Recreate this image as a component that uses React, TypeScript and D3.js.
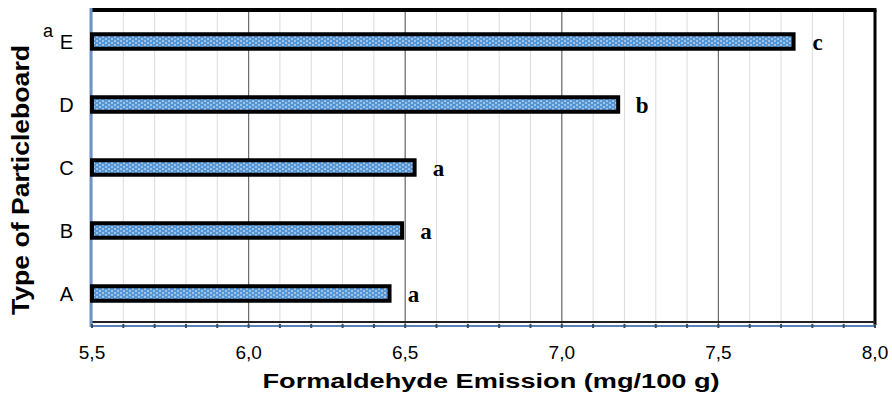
import * as d3 from "d3";

// particleboard types, bottom to top in the picture
const boards = ["A", "B", "C", "D", "E"];
const emission = [6.45, 6.49, 6.53, 7.18, 7.74];
const groups = ["a", "a", "a", "b", "c"];
const xTicks = [5.5, 6.0, 6.5, 7.0, 7.5, 8.0];

const W = 892;
const H = 400;
const plot = { left: 92, right: 875, top: 10, bottom: 325 };

export default function App() {
  const x = d3.scaleLinear().domain([5.5, 8.0]).range([plot.left, plot.right]);
  const y = d3
    .scaleBand<string>()
    .domain([...boards].reverse())
    .range([plot.top, plot.bottom])
    .paddingInner(0.77)
    .paddingOuter(0.385);

  const minor = d3.range(55, 81).map((v) => v / 10);
  const fmt = (v: number) => v.toFixed(1).replace(".", ",");
  const sans = "'Liberation Sans', Arial, sans-serif";
  const serif = "'Liberation Serif', 'Times New Roman', serif";

  return (
    <svg width={W} height={H} style={{ display: "block", position: "absolute", left: 0, top: 0 }}>
      <defs>
        <pattern id="dots" width={6} height={4} patternUnits="userSpaceOnUse">
          <rect width={6} height={4} fill="#5597d6" />
          <rect x={0} y={0.5} width={2} height={1} fill="#ffffff" opacity={0.85} />
          <rect x={3} y={2.5} width={2} height={1} fill="#ffffff" opacity={0.85} />
        </pattern>
      </defs>
      <rect width={W} height={H} fill="#fff" />

      {/* grid */}
      {minor.map((v) => (
        <line key={"m" + v} x1={x(v)} x2={x(v)} y1={plot.top} y2={plot.bottom} stroke="#dcdcdc" strokeWidth={1} />
      ))}
      {xTicks.slice(1, -1).map((v) => (
        <line key={"M" + v} x1={x(v)} x2={x(v)} y1={plot.top} y2={plot.bottom} stroke="#6e6e6e" strokeWidth={1.2} />
      ))}

      {/* frame */}
      <line x1={plot.left} x2={plot.right + 1.5} y1={plot.top} y2={plot.top} stroke="#000" strokeWidth={4} />
      <line x1={plot.right} x2={plot.right} y1={plot.top} y2={plot.bottom} stroke="#000" strokeWidth={3} />
      <line x1={plot.left} x2={plot.right} y1={plot.bottom - 3} y2={plot.bottom - 3} stroke="#222" strokeWidth={2} />
      <line x1={plot.left} x2={plot.right} y1={plot.bottom + 1} y2={plot.bottom + 1} stroke="#5a82b8" strokeWidth={2} />
      <line x1={plot.left - 1} x2={plot.left - 1} y1={plot.top - 2} y2={plot.bottom + 2} stroke="#6d93c9" strokeWidth={3} />
      {minor.map((v) => (
        <rect key={"t" + v} x={x(v) - 1} y={plot.bottom - 1} width={2} height={4} fill="#3a4a60" />
      ))}

      {/* bars */}
      {boards.map((b, i) => (
        <g key={b}>
          <rect
            x={x(5.5)}
            y={y(b)!}
            width={x(emission[i]) - x(5.5)}
            height={y.bandwidth()}
            fill="url(#dots)"
            stroke="#000"
            strokeWidth={4}
          />
          <text
            x={x(emission[i]) + 24}
            y={y(b)! + y.bandwidth() / 2 + 8.5}
            textAnchor="middle"
            fontFamily={serif}
            fontWeight="bold"
            fontSize={23}
          >
            {groups[i]}
          </text>
          <text
            x={66.5}
            y={y(b)! + y.bandwidth() / 2 + 7}
            textAnchor="middle"
            fontFamily={sans}
            fontSize={20}
          >
            {b}
          </text>
        </g>
      ))}

      {/* superscript marker */}
      <text x={48} y={37} textAnchor="middle" fontFamily={sans} fontSize={18}>
        a
      </text>

      {/* x tick labels */}
      {xTicks.map((v) => (
        <text key={"l" + v} x={x(v)} y={359} textAnchor="middle" fontFamily={sans} fontSize={19}>
          {fmt(v)}
        </text>
      ))}

      {/* axis titles */}
      <text
        x={491}
        y={388}
        textAnchor="middle"
        fontFamily={sans}
        fontWeight="bold"
        fontSize={20}
        textLength={457}
        lengthAdjust="spacingAndGlyphs"
      >
        Formaldehyde Emission (mg/100 g)
      </text>
      <text
        transform="translate(29,180) rotate(-90)"
        textAnchor="middle"
        fontFamily={sans}
        fontWeight="bold"
        fontSize={23}
        textLength={270}
        lengthAdjust="spacingAndGlyphs"
      >
        Type of Particleboard
      </text>
    </svg>
  );
}
